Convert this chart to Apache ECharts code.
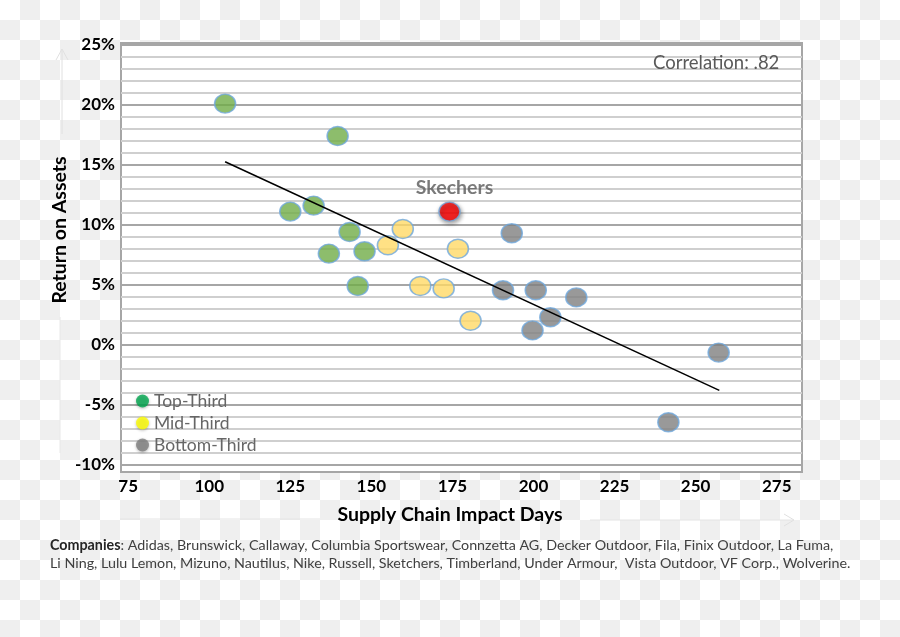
<!DOCTYPE html>
<html>
<head>
<meta charset="utf-8">
<script src="https://cdn.jsdelivr.net/npm/echarts@6/dist/echarts.min.js"></script>
<style>
html,body{margin:0;padding:0;width:900px;height:637px;overflow:hidden;
background-color:#fff;
background-image:conic-gradient(#efefef 0 25%, #fff 0 50%, #efefef 0 75%, #fff 0);
background-size:40px 40px;}
#chart{width:900px;height:637px;}
</style>
</head>
<body>
<div id="chart"></div>
<script>
const xTicks = [75, 100, 125, 150, 175, 200, 225, 250, 275];
const yTicks = [-10, -5, 0, 5, 10, 15, 20, 25];
const gridValues = [-10,-9,-8,-7,-6,-5,-4,-3,-2,-1,0,1,2,3,4,5,6,7,8,9,10,11,12,13,14,15,16,17,18,19,20,21,22,23,24,25];
const topThird = [[104.9,20.1],[139.6,17.4],[125.0,11.1],[132.2,11.6],[143.3,9.4],[136.9,7.6],[147.9,7.8],[145.8,4.9]];
const midThird = [[159.7,9.65],[155.1,8.3],[176.7,8.0],[165.1,4.9],[172.3,4.7],[180.6,2.0]];
const bottomThird = [[193.3,9.3],[190.6,4.55],[200.7,4.55],[213.2,3.95],[205.2,2.3],[199.7,1.2],[257.1,-0.65],[241.6,-6.45]];
const skechers = [[174.1,11.1]];
const trendLine = [[104.9,15.25],[257.3,-3.8]];
const legendNames = ['Top-Third','Mid-Third','Bottom-Third'];

const FONT = 'Lato, "Open Sans", sans-serif';
const chart = echarts.init(document.getElementById('chart'), null, {renderer:'canvas'});
const dotBorder = {borderColor:'#6fa8dc', borderWidth:1.5};

chart.setOption({
  backgroundColor:'transparent',
  animation:false,
  textStyle:{fontFamily:FONT},
  grid:{left:121, right:98, top:43, bottom:165, show:true, backgroundColor:'#fff', borderColor:'#a6a6a6', borderWidth:2},
  xAxis:{type:'value', min:72.8, max:282.8,
    axisLine:{show:false}, axisTick:{show:false}, splitLine:{show:false},
    axisLabel:{customValues:xTicks, color:'#000', fontWeight:'bold', fontSize:17, fontFamily:FONT, margin:6}},
  yAxis:{type:'value', min:-10.6, max:25.15,
    axisLine:{show:false}, axisTick:{show:false}, splitLine:{show:false},
    axisLabel:{customValues:yTicks, formatter:'{value}%', color:'#000', fontWeight:'bold', fontSize:17, fontFamily:FONT, margin:6}},
  legend:{orient:'vertical', left:131, top:387, z:6, itemWidth:13, itemHeight:13, itemGap:4, icon:'circle',
    textStyle:{color:'#666', fontSize:17.5, fontFamily:FONT},
    data:[
      {name:legendNames[0], itemStyle:{color:'#00a84f', borderWidth:0, shadowBlur:3, shadowColor:'rgba(0,0,0,0.35)', shadowOffsetY:1}},
      {name:legendNames[1], itemStyle:{color:'#ffff00', borderWidth:0, shadowBlur:3, shadowColor:'rgba(0,0,0,0.35)', shadowOffsetY:1}},
      {name:legendNames[2], itemStyle:{color:'#808080', borderWidth:0, shadowBlur:3, shadowColor:'rgba(0,0,0,0.35)', shadowOffsetY:1}}
    ]},
  series:[
    {type:'line', name:'grid', data:[], z:0, silent:true,
      markLine:{silent:true, z:1, symbol:'none', label:{show:false}, animation:false,
        data:gridValues.map(v=>({yAxis:v, lineStyle:{type:'solid', color:(v%5===0)?'#a6a6a6':'#cfcfcf', width:2}}))}},
    {type:'scatter', name:legendNames[0], data:topThird, symbol:'circle', symbolSize:[21,19], z:3,
      itemStyle:Object.assign({color:'#70ad47'}, dotBorder)},
    {type:'scatter', name:legendNames[1], data:midThird, symbol:'circle', symbolSize:[21,19], z:3,
      itemStyle:Object.assign({color:'#ffd966'}, dotBorder)},
    {type:'scatter', name:legendNames[2], data:bottomThird, symbol:'circle', symbolSize:[21,19], z:3,
      itemStyle:Object.assign({color:'#808080'}, dotBorder)},
    {type:'scatter', name:'Skechers', data:skechers, symbol:'circle', symbolSize:[21,19], z:3,
      itemStyle:{color:'#ff0000', borderColor:'#6fa8dc', borderWidth:1.5, shadowBlur:4, shadowColor:'rgba(0,0,0,0.45)', shadowOffsetX:1, shadowOffsetY:2},
      label:{show:true, position:'top', distance:4, offset:[5,0], formatter:'Skechers', color:'#595959', fontWeight:'bold', fontSize:19.5, fontFamily:FONT}},
    {type:'line', name:'trend', data:trendLine, symbol:'none', z:4, silent:true,
      lineStyle:{color:'#000', width:1.5}}
  ],
  graphic:[
    {type:'text', left:653, top:54, z:10, style:{text:'Correlation: .82', fill:'#595959', fontSize:18.5, fontFamily:FONT}},
    {type:'text', x:60, y:230, rotation:Math.PI/2, z:10,
      style:{text:'Return on Assets', fill:'#000', fontSize:19.5, fontWeight:'bold', fontFamily:FONT, align:'center', verticalAlign:'middle'}},
    {type:'text', x:450, y:515, z:10,
      style:{text:'Supply Chain Impact Days', fill:'#000', fontSize:19.5, fontWeight:'bold', fontFamily:FONT, align:'center', verticalAlign:'middle'}},
    {type:'text', x:50, y:536, z:10,
      style:{text:'{b|Companies}: Adidas, Brunswick, Callaway, Columbia Sportswear, Connzetta AG, Decker Outdoor, Fila, Finix Outdoor, La Fuma,\nLi Ning, Lulu Lemon, Mizuno, Nautilus, Nike, Russell, Sketchers, Timberland, Under Armour,  Vista Outdoor, VF Corp., Wolverine.',
        fill:'#404040', fontSize:14.3, lineHeight:18, fontFamily:FONT,
        rich:{b:{fontWeight:'bold', fill:'#262626', fontSize:14.3, fontFamily:FONT}}}},
    {type:'line', z:1, shape:{x1:62, y1:49, x2:62, y2:134}, style:{stroke:'#e0e0e0', lineWidth:1}},
    {type:'polyline', z:1, shape:{points:[[56,60],[62,49],[68,60]]}, style:{stroke:'#e0e0e0', lineWidth:1, fill:null}},
    {type:'line', z:1, shape:{x1:60, y1:317, x2:60, y2:453}, style:{stroke:'#e8e8e8', lineWidth:1}},
    {type:'line', z:1, shape:{x1:120, y1:519, x2:320, y2:519}, style:{stroke:'#e4e4e4', lineWidth:1}},
    {type:'line', z:1, shape:{x1:590, y1:520, x2:793, y2:520}, style:{stroke:'#e4e4e4', lineWidth:1}},
    {type:'polyline', z:1, shape:{points:[[784,514],[794,520],[784,526]]}, style:{stroke:'#e0e0e0', lineWidth:1, fill:null}}
  ]
});
</script>
</body>
</html>
